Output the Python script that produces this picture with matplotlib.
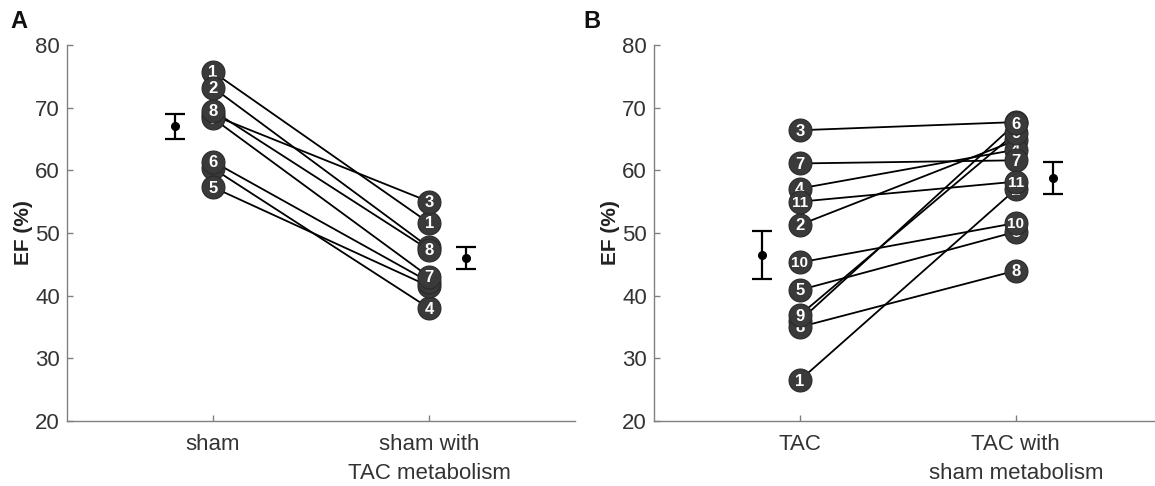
import matplotlib
matplotlib.use("Agg")
import matplotlib.pyplot as plt

plt.rcParams['font.family'] = ['Liberation Sans', 'DejaVu Sans']

# ---------------- data ----------------
yticks = [20, 30, 40, 50, 60, 70, 80]

conditions_a = ["sham", "sham with\nTAC metabolism"]
ids_a = [1, 2, 3, 4, 5, 6, 7, 8]
before_a = [75.7, 73.2, 68.8, 60.3, 57.3, 61.4, 68.3, 69.5]
after_a = [51.6, 47.7, 55.0, 38.0, 41.5, 42.2, 43.0, 47.3]
mean_a = [67.0, 46.0]
err_a = [2.0, 1.7]

conditions_b = ["TAC", "TAC with\nsham metabolism"]
ids_b = [1, 2, 3, 4, 5, 6, 7, 8, 9, 10, 11]
before_b = [26.5, 51.3, 66.4, 57.1, 40.9, 36.0, 61.1, 35.0, 36.9, 45.3, 55.0]
after_b = [57.0, 64.8, 67.7, 63.3, 50.2, 67.5, 61.6, 44.0, 66.0, 51.6, 58.2]
mean_b = [46.5, 58.8]
err_b = [3.9, 2.55]

# drawing order of the right-hand column in panel B (later = on top)
layer_after_b = [1, 2, 3, 4, 5, 9, 6, 7, 8, 10, 11]

MARKER_FC = '#3a3a3a'
AXIS_C = '#808080'
TEXT_C = '#333333'

fig = plt.figure(figsize=(11.55, 4.86), dpi=100)
ax_a = fig.add_axes([0.058, 0.1337, 0.44, 0.7737])
ax_b = fig.add_axes([0.566, 0.1337, 0.44, 0.7737])


def draw_panel(ax, ids, before, after, cats, means, errs, layer_after=None):
    for b, a in zip(before, after):
        ax.plot([1, 2], [b, a], color='black', lw=1.3, zorder=2)
    orders = {1: list(ids), 2: list(layer_after) if layer_after else list(ids)}
    for col, vals in ((1, before), (2, after)):
        lookup = dict(zip(ids, vals))
        for k, pid in enumerate(orders[col]):
            v = lookup[pid]
            z = 10 + 2 * k
            ax.plot(col, v, 'o', ms=16.5, mfc=MARKER_FC, mec='#2a2a2a', mew=0.8,
                    zorder=z)
            ax.text(col, v - 0.15, str(pid), color='white',
                    fontsize=12 if pid < 10 else 11,
                    fontweight='bold', ha='center', va='center', zorder=z + 1)
    ax.errorbar([0.825, 2.172], means, yerr=errs, fmt='o', color='black',
                ms=5.5, capsize=7.5, elinewidth=1.6, capthick=1.6, zorder=5)
    ax.set_xlim(0.324, 2.676)
    ax.set_ylim(20, 80)
    ax.set_yticks(yticks)
    ax.set_xticks([1, 2])
    ax.set_xticklabels(cats, linespacing=1.55)
    for s in ('top', 'right'):
        ax.spines[s].set_visible(False)
    for s in ('left', 'bottom'):
        ax.spines[s].set_color(AXIS_C)
        ax.spines[s].set_linewidth(1.0)
    ax.tick_params(axis='both', direction='in', length=4, width=1, color=AXIS_C,
                   labelsize=16, labelcolor=TEXT_C)
    ax.tick_params(axis='x', pad=9)
    ax.tick_params(axis='y', pad=5)
    ax.set_ylabel('EF (%)', fontsize=15, fontweight='bold', color='#222222')
    ax.yaxis.set_label_coords(-0.066, 0.5)


draw_panel(ax_a, ids_a, before_a, after_a, conditions_a, mean_a, err_a)
draw_panel(ax_b, ids_b, before_b, after_b, conditions_b, mean_b, err_b,
           layer_after_b)

fig.text(0.009, 0.955, 'A', fontsize=17, fontweight='bold', va='center', color='#111111')
fig.text(0.505, 0.955, 'B', fontsize=17, fontweight='bold', va='center', color='#111111')

fig.savefig('out.png', dpi=100)
